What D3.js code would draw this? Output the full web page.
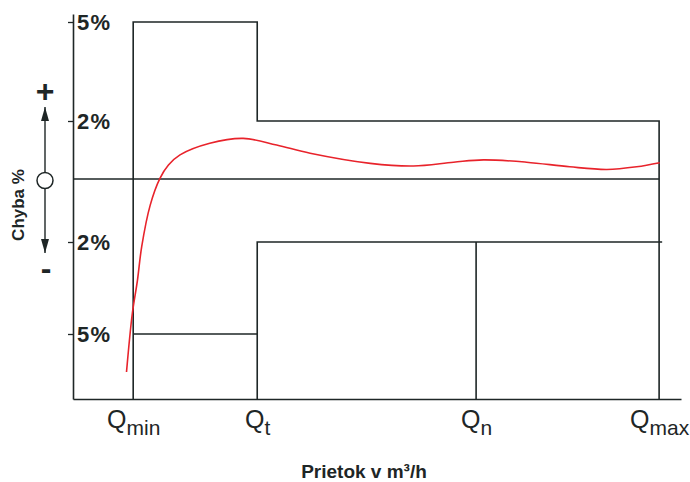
<!DOCTYPE html>
<html>
<head>
<meta charset="utf-8">
<script src="https://cdn.jsdelivr.net/npm/d3@7"></script>
<style>
  body { margin: 0; background: #fff; }
  svg { display: block; font-family: "Liberation Sans", Arial, sans-serif; }
</style>
</head>
<body>
<svg id="chart" width="690" height="482"></svg>
<script>
// flow points on the x axis (arbitrary units, 0..100)
const flowNames = ["min", "t", "n", "max"];
const flowPos = [9.9, 30.3, 66.3, 96.4];

// error ticks (%), printed without sign
const tickVals = [5, 2, -2, -5];
const tickLabels = ["5%", "2%", "2%", "5%"];

// error limits
const upperLimitErr = [5, 2];
const lowerLimitErr = [-5, -2];

// measured error curve
const curveX = [8.8, 9.75, 10.6, 11.3, 12.7, 14.3, 15.7, 17.6, 22.5, 28.0, 33.5, 39.0, 48.9, 56.0, 62.6, 67.5, 74.6, 81.7, 87.8, 92.7, 96.5];
const curveY = [-6.17, -4.34, -3.25, -2.15, -0.83, 0.02, 0.48, 0.83, 1.23, 1.40, 1.17, 0.89, 0.54, 0.45, 0.58, 0.66, 0.58, 0.42, 0.33, 0.42, 0.56];

const ink = "#1e2626";
const red = "#e8232b";

const svg = d3.select("#chart");

const x = d3.scaleLinear().domain([0, 100]).range([73, 681]);
// the drawing is not evenly spaced, so the y scale is piecewise
const y = d3.scaleLinear()
    .domain([-7, -5, -2, 0, 2, 5, 5.2])
    .range([399, 334, 242, 179, 121, 22, 14]);

const [qMin, qT, qN, qMax] = flowPos;
const yBottom = -7;

const line = d3.line().x(d => x(d[0])).y(d => y(d[1]));

// y axis, labels on the right of the line
const yAxis = svg.append("g")
    .attr("transform", `translate(${x(0)},0)`)
    .call(d3.axisLeft(y).tickValues(tickVals).tickSize(5).tickSizeOuter(0)
        .tickFormat((d, i) => tickLabels[i]));
yAxis.select(".domain").attr("stroke", ink).attr("stroke-width", 1.6);
yAxis.selectAll(".tick line").attr("stroke", ink).attr("stroke-width", 1.3);
yAxis.selectAll(".tick text")
    .attr("x", 4).attr("dy", "0.36em")
    .attr("text-anchor", "start")
    .attr("fill", ink)
    .style("font-size", "22px")
    .style("font-weight", "bold")
    .style("letter-spacing", "1.2px");

// x axis
const xAxis = svg.append("g")
    .attr("transform", `translate(0,${y(yBottom)})`)
    .call(d3.axisBottom(x).tickValues(flowPos).tickSize(0).tickSizeOuter(0).tickFormat(""));
xAxis.select(".domain").attr("stroke", ink).attr("stroke-width", 1.6);
xAxis.selectAll(".tick text").remove();
xAxis.selectAll(".tick").each(function(d, i) {
  const t = d3.select(this).append("text")
      .attr("y", 29)
      .attr("text-anchor", "middle")
      .attr("fill", ink);
  t.append("tspan").text("Q").style("font-size", "25px");
  t.append("tspan").text(flowNames[i]).attr("dy", 7).style("font-size", "21px");
});

// limits
const limits = svg.append("g").attr("fill", "none").attr("stroke", ink).attr("stroke-width", 1.6);
limits.append("path").attr("d", line([
  [qMin, yBottom], [qMin, upperLimitErr[0]], [qT, upperLimitErr[0]],
  [qT, upperLimitErr[1]], [qMax, upperLimitErr[1]], [qMax, yBottom]
]));
limits.append("path").attr("d", line([[qMin, lowerLimitErr[0]], [qT, lowerLimitErr[0]]]));
limits.append("path").attr("d", line([[qT, yBottom], [qT, lowerLimitErr[1]], [qMax + 0.5, lowerLimitErr[1]]]));
limits.append("path").attr("d", line([[qN, lowerLimitErr[1]], [qN, yBottom]]));
limits.append("path").attr("d", line([[0, 0], [qMax, 0]]));

// error curve
svg.append("path")
    .datum(curveX.map((v, i) => [v, curveY[i]]))
    .attr("fill", "none")
    .attr("stroke", red)
    .attr("stroke-width", 1.6)
    .attr("d", line.curve(d3.curveCatmullRom));

// left side sign indicator
const cx = 45, cy = y(0) + 1.5, r = 8;
svg.append("defs").append("marker")
    .attr("id", "head").attr("viewBox", "0 0 10 10")
    .attr("refX", 10).attr("refY", 5)
    .attr("markerWidth", 14).attr("markerHeight", 8)
    .attr("markerUnits", "userSpaceOnUse")
    .attr("orient", "auto")
    .attr("preserveAspectRatio", "none")
  .append("path").attr("d", "M0,0L10,5L0,10Z").attr("fill", ink);
svg.append("path").attr("d", `M${cx},${cy - r}V107`).attr("stroke", ink).attr("stroke-width", 1.4)
    .attr("marker-end", "url(#head)");
svg.append("path").attr("d", `M${cx},${cy + r}V253`).attr("stroke", ink).attr("stroke-width", 1.4)
    .attr("marker-end", "url(#head)");
svg.append("circle").attr("cx", cx).attr("cy", cy).attr("r", r)
    .attr("fill", "#fff").attr("stroke", ink).attr("stroke-width", 1.5);
svg.append("text").attr("x", cx).attr("y", 102).attr("text-anchor", "middle")
    .attr("fill", ink).style("font-size", "32px").style("font-weight", "bold").text("+");
svg.append("text").attr("x", cx + 1).attr("y", 279).attr("text-anchor", "middle")
    .attr("fill", ink).style("font-size", "32px").style("font-weight", "bold").text("-");

// axis titles
svg.append("text")
    .attr("transform", "translate(24,205) rotate(-90)")
    .attr("text-anchor", "middle")
    .attr("fill", ink)
    .style("font-size", "17px").style("font-weight", "bold")
    .text("Chyba %");
svg.append("text")
    .attr("x", 364).attr("y", 478)
    .attr("text-anchor", "middle")
    .attr("fill", ink)
    .style("font-size", "19px").style("font-weight", "bold")
    .text("Prietok v m³/h");
</script>
</body>
</html>
